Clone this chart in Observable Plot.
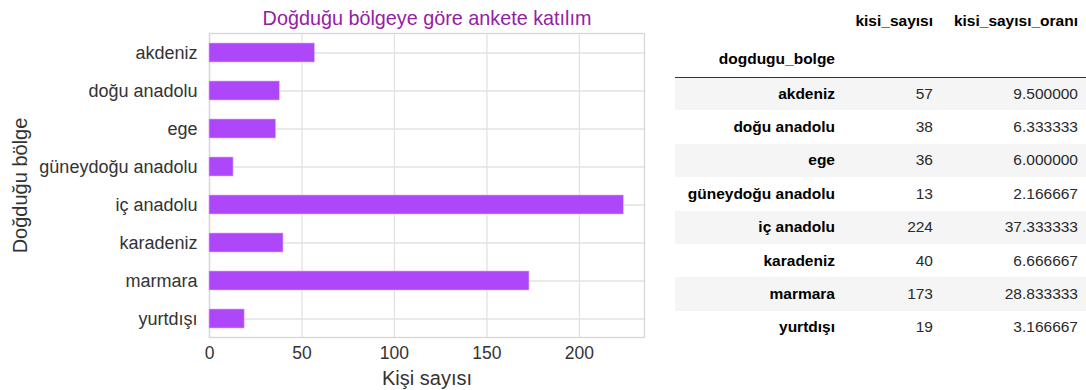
<!DOCTYPE html>
<html>
<head>
<meta charset="utf-8">
<script src="https://cdn.jsdelivr.net/npm/d3@7"></script>
<script src="https://cdn.jsdelivr.net/npm/@observablehq/plot@0.6"></script>
<style>
  html, body { margin: 0; padding: 0; background: #fff; }
  #wrap { position: relative; width: 1086px; height: 390px; overflow: hidden; font-family: "Liberation Sans", Arial, sans-serif; }
  #chart { position: absolute; left: 0; top: 0; }
  #tbl { position: absolute; left: 675px; top: 0; }
  table { border-collapse: collapse; table-layout: fixed; font-size: 15.5px; color: #111; }
  td, th { padding: 0; text-align: right; white-space: nowrap; }
  th { font-weight: bold; color: #000; }
  tbody th { color: #000; }
  tbody td { color: #2a2a2a; }
  thead tr.r1 { height: 41px; }
  thead tr.r2 { height: 36px; }
  thead tr.r2 th { border-bottom: 1.5px solid #333; }
  tbody tr { height: 33.4px; }
  tbody tr:nth-child(odd) { background: #f5f5f5; }
  .c1 { padding-right: 10px; }
  .c2 { padding-right: 10px; }
  .c3 { padding-right: 8px; }
</style>
</head>
<body>
<div id="wrap">
  <div id="chart"></div>
  <div id="tbl"></div>
</div>
<script>
// ---- data ----
const regions = ["akdeniz", "doğu anadolu", "ege", "güneydoğu anadolu", "iç anadolu", "karadeniz", "marmara", "yurtdışı"];
const counts = [57, 38, 36, 13, 224, 40, 173, 19];
const ratios = [9.5, 6.333333, 6.0, 2.166667, 37.333333, 6.666667, 28.833333, 3.166667];
const xTicks = [0, 50, 100, 150, 200];
const title = "Doğduğu bölgeye göre ankete katılım";
const xLabel = "Kişi sayısı";
const yLabel = "Doğduğu bölge";
const indexName = "dogdugu_bolge";
const colNames = ["kisi_sayısı", "kisi_sayısı_oranı"];

const data = regions.map((r, i) => ({region: r, count: counts[i]}));

const chart = Plot.plot({
  width: 660,
  height: 390,
  marginLeft: 209,
  marginRight: 16,
  marginTop: 33,
  marginBottom: 53,
  style: {fontFamily: "'Liberation Sans', Arial, sans-serif", background: "#fff", color: "#333"},
  x: {domain: [0, d3.max(counts) * 1.05], ticks: xTicks, label: null},
  y: {domain: regions, paddingInner: 0.5, paddingOuter: 0.25, label: null},
  marks: [
    Plot.gridX(xTicks, {stroke: "#e2e2e2", strokeOpacity: 1, strokeWidth: 1.3}),
    Plot.gridY({stroke: "#e2e2e2", strokeOpacity: 1, strokeWidth: 1.3}),
    Plot.frame({stroke: "#d6d6d6", strokeWidth: 1.3}),
    Plot.barX(data, {x: "count", y: "region", fill: "#AE46FA", stroke: "#d9b0ff", strokeWidth: 0.6}),
    Plot.axisX(xTicks, {tickSize: 0, tickPadding: 9, fontSize: 17.5, fill: "#333", label: null}),
    Plot.axisY({tickSize: 0, tickPadding: 12, fontSize: 18, fill: "#333", label: null}),
    Plot.text([xLabel], {frameAnchor: "bottom", lineAnchor: "middle", textAnchor: "middle", dy: 41, fontSize: 20, fill: "#333"}),
    Plot.text([yLabel], {frameAnchor: "left", lineAnchor: "middle", textAnchor: "middle", dx: -189, rotate: -90, fontSize: 20, fill: "#333"}),
    Plot.text([title], {frameAnchor: "top", lineAnchor: "middle", textAnchor: "middle", dy: -15, fontSize: 19.8, fill: "#9420a6"})
  ]
});
document.getElementById("chart").appendChild(chart);

// ---- table ----
const table = d3.select("#tbl").append("table");
const cg = table.append("colgroup");
[170, 98, 143].forEach(w => cg.append("col").style("width", w + "px"));
const thead = table.append("thead");
const r1 = thead.append("tr").attr("class", "r1");
r1.append("th").attr("class", "c1").text("");
r1.append("th").attr("class", "c2").text(colNames[0]);
r1.append("th").attr("class", "c3").text(colNames[1]);
const r2 = thead.append("tr").attr("class", "r2");
r2.append("th").attr("class", "c1").text(indexName);
r2.append("th").attr("class", "c2").text("");
r2.append("th").attr("class", "c3").text("");
const tbody = table.append("tbody");
regions.forEach((r, i) => {
  const tr = tbody.append("tr");
  tr.append("th").attr("class", "c1").text(r);
  tr.append("td").attr("class", "c2").text(counts[i]);
  tr.append("td").attr("class", "c3").text(ratios[i].toFixed(6));
});
</script>
</body>
</html>
